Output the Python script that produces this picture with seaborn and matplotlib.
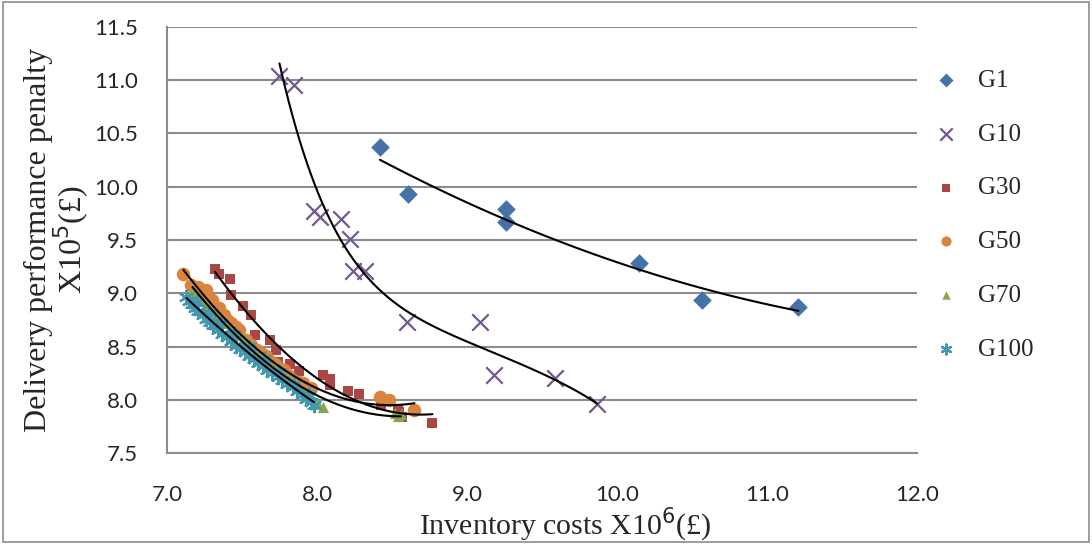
import pandas as pd
import matplotlib.pyplot as plt
import seaborn as sns
from matplotlib.patches import Rectangle

sns.set_style("white")

# series values (inventory costs x1e6, penalty x1e5)
g1_x = [8.42, 8.61, 9.26, 9.26, 10.15, 10.57, 11.21]
g1_y = [10.37, 9.93, 9.79, 9.67, 9.28, 8.94, 8.87]

g10_x = [7.75, 7.85, 7.98, 8.02, 8.16, 8.22, 8.24, 8.32, 8.60, 9.09, 9.18, 9.59, 9.87]
g10_y = [11.04, 10.95, 9.77, 9.72, 9.70, 9.51, 9.21, 9.21, 8.73, 8.73, 8.23, 8.21, 7.96]

g30_x = [7.32, 7.35, 7.42, 7.43, 7.51, 7.56, 7.59, 7.69, 7.73, 7.74, 7.82, 7.88,
         8.04, 8.09, 8.09, 8.21, 8.28, 8.43, 8.54, 8.55, 8.57, 8.77]
g30_y = [9.23, 9.18, 9.13, 8.98, 8.88, 8.80, 8.61, 8.56, 8.47, 8.36, 8.34, 8.27,
         8.23, 8.20, 8.14, 8.08, 8.06, 7.95, 7.91, 7.89, 7.84, 7.78]

g50_x = [7.11, 7.16, 7.21, 7.26, 7.30, 7.35, 7.38, 7.43, 7.48, 7.53, 7.60, 7.66,
         7.72, 7.78, 7.84, 7.91, 7.96, 8.42, 8.48, 8.65,
         7.19, 7.24, 7.33, 7.40, 7.46, 7.56, 7.63, 7.69, 7.75, 7.81, 7.88]
g50_y = [9.18, 9.08, 9.06, 9.03, 8.94, 8.86, 8.80, 8.72, 8.66, 8.56, 8.47, 8.41,
         8.34, 8.28, 8.19, 8.16, 8.11, 8.03, 8.00, 7.91,
         9.02, 8.97, 8.84, 8.75, 8.68, 8.52, 8.44, 8.37, 8.30, 8.23, 8.17]

g70_x = [7.17, 7.20, 7.23, 7.27, 7.31, 7.35, 7.39, 7.43, 7.48, 7.52, 7.57, 7.62,
         7.67, 7.72, 7.77, 7.82, 7.87, 7.92, 7.97, 8.01, 8.04, 8.52, 8.54, 8.56]
g70_y = [9.02, 8.97, 8.93, 8.88, 8.83, 8.78, 8.72, 8.67, 8.61, 8.56, 8.50, 8.44,
         8.38, 8.32, 8.26, 8.20, 8.14, 8.08, 8.02, 7.96, 7.93, 7.88, 7.85, 7.87]

g100_x = [7.13, 7.15, 7.17, 7.19, 7.21, 7.24, 7.26, 7.29, 7.31, 7.34, 7.37, 7.40,
          7.43, 7.46, 7.49, 7.52, 7.55, 7.58, 7.61, 7.64, 7.67, 7.70, 7.74, 7.77,
          7.80, 7.84, 7.87, 7.90, 7.93, 7.96, 7.98,
          7.20, 7.28, 7.36, 7.45, 7.55, 7.65, 7.75, 7.85, 7.95]
g100_y = [8.97, 8.93, 8.90, 8.86, 8.83, 8.80, 8.76, 8.73, 8.70, 8.66, 8.62, 8.59,
          8.55, 8.51, 8.48, 8.45, 8.41, 8.38, 8.35, 8.32, 8.28, 8.25, 8.22, 8.19,
          8.15, 8.12, 8.08, 8.05, 8.01, 7.98, 7.95,
          8.92, 8.82, 8.72, 8.62, 8.50, 8.38, 8.26, 8.15, 8.05]

groups = ["G1", "G10", "G30", "G50", "G70", "G100"]
xs = [g1_x, g10_x, g30_x, g50_x, g70_x, g100_x]
ys = [g1_y, g10_y, g30_y, g50_y, g70_y, g100_y]
colors = ["#4572A7", "#71588F", "#AA4643", "#DB843D", "#89A54E", "#4198AF"]
markers = ["D", "x", "s", "o", "^", (6, 2, 0)]
sizes = [90, 140, 60, 95, 65, 95]
orders = [2, 5, 2, 2, 2, 2]   # polynomial trend lines

df = pd.concat([pd.DataFrame({"cost": x, "penalty": y, "group": g})
                for g, x, y in zip(groups, xs, ys)], ignore_index=True)

plt.rcParams["font.family"] = ["Lato", "DejaVu Sans"]
fig = plt.figure(figsize=(10.92, 5.44), dpi=100)
ax = fig.add_axes([0.1529, 0.1667, 0.6868, 0.7843])

for i, g in enumerate(groups):
    sub = df[df["group"] == g]
    lw = 1.6 if g in ("G10", "G100") else 0
    sns.scatterplot(data=sub, x="cost", y="penalty", ax=ax, color=colors[i],
                    marker=markers[i], s=sizes[i], linewidth=lw,
                    edgecolor=colors[i] if lw == 0 else None, label=g, zorder=3)

for i, g in enumerate(groups):
    sub = df[df["group"] == g]
    sns.regplot(data=sub, x="cost", y="penalty", ax=ax, order=orders[i],
                scatter=False, ci=None, truncate=True,
                line_kws={"color": "black", "linewidth": 1.5, "zorder": 4})

ax.set_xlim(7.0, 12.0)
ax.set_ylim(7.5, 11.5)
ax.set_xticks([7.0, 8.0, 9.0, 10.0, 11.0, 12.0])
ax.set_yticks([7.5, 8.0, 8.5, 9.0, 9.5, 10.0, 10.5, 11.0, 11.5])
ax.xaxis.set_major_formatter(plt.FormatStrFormatter("%.1f"))
ax.yaxis.set_major_formatter(plt.FormatStrFormatter("%.1f"))
ax.tick_params(axis="both", length=0, labelsize=16)
ax.tick_params(axis="x", pad=23)
ax.tick_params(axis="y", pad=21)
ax.yaxis.grid(True, color="#8C8C8C", linewidth=1.5)
ax.set_axisbelow(True)
for s in ["top", "right"]:
    ax.spines[s].set_visible(False)
for s in ["left", "bottom"]:
    ax.spines[s].set_color("#8C8C8C")
    ax.spines[s].set_linewidth(1.5)

serif = ["Liberation Serif", "DejaVu Serif"]
ax.set_xlabel("Inventory costs X10$^{6}$(£)", family=serif, fontsize=21.5)
ax.xaxis.set_label_coords(0.531, -0.124)
ax.set_ylabel("Delivery performance penalty\nX10$^{5}$(£)", family=serif, fontsize=23,
              labelpad=2, linespacing=0.95)

leg = ax.legend(loc="upper left", bbox_to_anchor=(0.834, 0.891), bbox_transform=fig.transFigure,
                frameon=False, prop={"family": serif, "size": 18}, labelspacing=1.25,
                handletextpad=0.3, markerscale=0.75, borderaxespad=0)

fig.patches.append(Rectangle((0.003, 0.004), 0.994, 0.992, transform=fig.transFigure,
                             fill=False, edgecolor="#8C8C8C", linewidth=1.2))

fig.savefig("out.png", dpi=100)
